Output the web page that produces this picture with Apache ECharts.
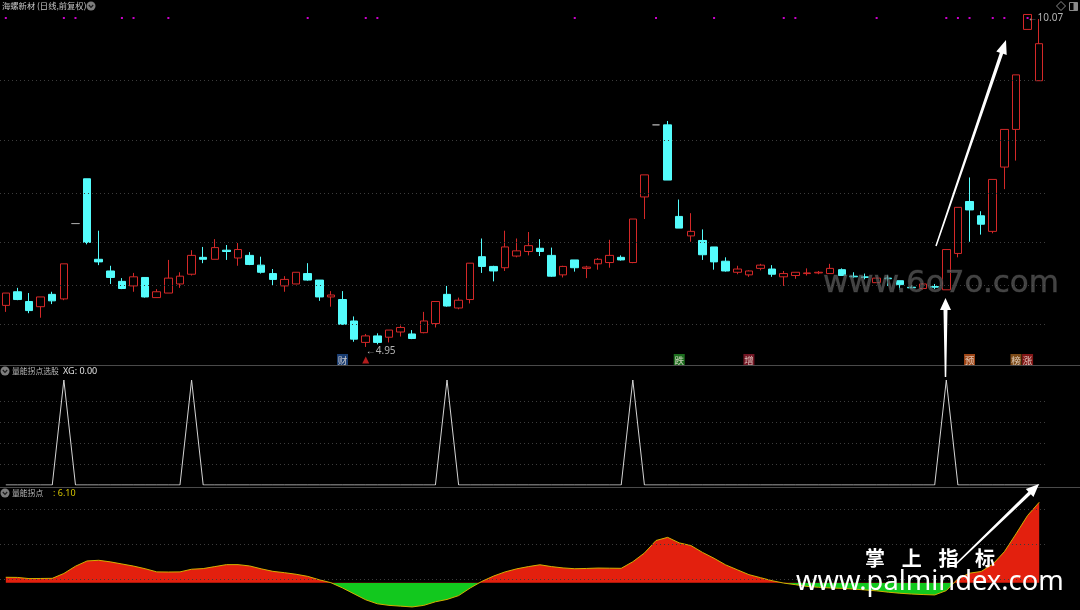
<!DOCTYPE html>
<html><head><meta charset="utf-8">
<script src="https://cdn.jsdelivr.net/npm/echarts@6/dist/echarts.min.js"></script>
<style>html,body{margin:0;padding:0;background:#000;}#c{width:1080px;height:610px;}</style>
</head><body><div id="c"></div>
<script>
// ---- data ----
const opens = [5.59,5.80,5.65,5.57,5.76,5.69,6.85,7.54,6.30,6.12,
5.96,5.89,6.02,5.71,5.78,5.92,6.07,6.33,6.30,6.44,
6.32,6.36,6.21,6.08,5.89,5.92,6.08,5.98,5.72,5.68,
5.35,5.02,5.12,5.10,5.18,5.15,5.17,5.31,5.76,5.55,
5.68,6.34,6.19,6.17,6.35,6.42,6.47,6.36,6.06,6.29,
6.16,6.23,6.25,6.33,6.25,7.26,8.37,8.37,6.96,6.66,
6.59,6.49,6.27,6.10,6.06,6.16,6.15,6.03,6.05,6.08,
6.09,6.08,6.14,6.04,6.03,5.94,6.01,5.97,5.87,5.85,
5.88,5.83,6.39,7.19,6.97,6.73,7.72,8.30,9.84,9.05];
const closes = [5.78,5.68,5.51,5.72,5.66,6.23,6.85,6.56,6.26,6.02,
5.85,6.03,5.72,5.80,6.01,6.04,6.36,6.30,6.48,6.42,
6.45,6.22,6.10,5.99,5.99,6.10,5.98,5.72,5.75,5.30,
5.07,5.12,5.02,5.21,5.25,5.08,5.35,5.65,5.58,5.67,
6.24,6.19,6.12,6.49,6.43,6.51,6.42,6.04,6.19,6.17,
6.18,6.30,6.36,6.29,6.92,7.60,8.37,7.52,6.78,6.73,
6.37,6.26,6.12,6.15,6.12,6.21,6.07,6.08,6.10,6.09,
6.10,6.16,6.05,6.03,6.02,6.01,6.00,5.91,5.86,5.92,
5.87,6.45,7.10,7.06,6.84,7.53,8.30,9.14,10.07,9.62];
const lows = [5.49,5.67,5.47,5.40,5.61,5.67,6.85,6.53,6.21,5.92,
5.84,5.80,5.71,5.71,5.78,5.86,6.05,6.24,6.30,6.29,
6.20,6.21,6.08,5.89,5.80,5.92,5.97,5.66,5.57,5.29,
5.03,4.95,4.99,5.02,5.11,5.07,5.16,5.25,5.57,5.53,
5.62,6.09,5.96,6.12,6.33,6.36,6.35,6.03,6.02,6.11,
6.01,6.14,6.17,6.28,6.24,6.92,8.37,7.52,6.78,6.57,
6.29,6.14,6.11,6.07,6.03,6.13,6.03,5.89,6.00,6.05,
6.07,6.08,6.05,6.01,5.99,5.94,5.89,5.83,5.86,5.83,
5.84,5.83,6.33,6.57,6.68,6.70,7.38,7.82,9.84,9.05];
const highs = [5.78,5.86,5.78,5.72,5.80,6.23,6.85,7.54,6.74,6.20,
6.01,6.09,6.02,5.84,6.29,6.10,6.44,6.49,6.61,6.52,
6.55,6.41,6.34,6.15,6.04,6.10,6.24,5.98,5.81,5.81,
5.42,5.15,5.16,5.21,5.28,5.21,5.49,5.65,5.89,5.71,
6.24,6.62,6.20,6.74,6.62,6.72,6.61,6.48,6.20,6.29,
6.20,6.32,6.60,6.36,6.92,7.60,8.37,8.43,7.22,7.01,
6.76,6.49,6.33,6.20,6.13,6.23,6.21,6.12,6.10,6.16,
6.12,6.23,6.16,6.10,6.08,6.01,6.06,5.97,5.90,5.93,
5.92,6.45,7.10,7.56,7.04,7.53,8.30,9.14,10.07,10.00];
const xgSignal = [0,0,0,0,0,1,0,0,0,0,
0,0,0,0,0,0,1,0,0,0,
0,0,0,0,0,0,0,0,0,0,
0,0,0,0,0,0,0,0,1,0,
0,0,0,0,0,0,0,0,0,0,
0,0,0,0,1,0,0,0,0,0,
0,0,0,0,0,0,0,0,0,0,
0,0,0,0,0,0,0,0,0,0,
0,1,0,0,0,0,0,0,0,0];
const energyPoint = [0.41,0.40,0.31,0.32,0.33,0.70,1.25,1.65,1.70,1.58,
1.42,1.26,1.06,0.82,0.81,0.82,1.02,1.07,1.22,1.37,
1.37,1.27,1.05,0.86,0.76,0.64,0.48,0.22,0.00,-0.40,
-0.85,-1.30,-1.60,-1.72,-1.78,-1.84,-1.72,-1.45,-1.27,-0.98,
-0.40,0.10,0.50,0.82,1.05,1.22,1.36,1.22,1.12,1.06,
1.08,1.11,1.10,1.09,1.59,2.25,3.20,3.44,3.02,2.82,
2.30,1.85,1.35,0.98,0.61,0.38,0.15,-0.03,-0.15,-0.28,
-0.35,-0.40,-0.43,-0.48,-0.55,-0.62,-0.72,-0.80,-0.86,-0.90,
-0.93,-0.60,0.30,0.72,0.85,1.40,2.35,3.70,5.10,6.10];
const topDots = [0,5,6,10,11,14,26,31,32,49,56,61,67,68,75,81,82,83,85,86,88];
const tagIndex = [29,31,58,64,83,87,88];
const tagText = ['财','▲','跌','增','预','榜','涨'];
const priceGridLevels = [9.046, 8.137, 7.321, 6.566, 5.904, 5.303];
const energyGridLevels = [0.26, 2.91, 5.57];
const stockTitle = '海螺新材 (日线,前复权)';
const panel2Title = '量能拐点选股';
const panel3Title = '量能拐点';

// ---- build ----
const N = opens.length;
const cats = opens.map((_, i) => 'D' + (i + 1));
const candleData = opens.map((o, i) => {
  const v = [o, closes[i], lows[i], highs[i]];
  if (o === closes[i] && o === highs[i] && o === lows[i]) {
    return {value: v, itemStyle: {color: '#a0a0a0', color0: '#a0a0a0', borderColor: '#a0a0a0', borderColor0: '#a0a0a0'}};
  }
  return v;
});
const dotData = cats.map((c, i) => topDots.indexOf(i) >= 0 ? 0.5 : '-');
const tagColors = {'财': '#1f4c8f', '跌': '#238a25', '增': '#8e1a2c', '预': '#c4561c', '榜': '#9c5e1e', '涨': '#a31c1c'};
const tagData = tagIndex.map((idx, k) => {
  const t = tagText[k];
  if (t === '▲') {
    return {value: [idx, 0.5], name: '', symbol: 'triangle', symbolSize: [7, 7], itemStyle: {color: '#e02424'}};
  }
  return {value: [idx, 0.5], name: t, itemStyle: {color: tagColors[t]}};
});

const GL = 0, GW = 1045;
const E_MIN = -1.92, E_MAX = 7.26;
const grids = [
  {left: GL, width: GW, top: 0, height: 365},
  {left: GL, width: GW, top: 12, height: 12},
  {left: GL, width: GW, top: 354, height: 12},
  {left: GL, width: GW, top: 380, height: 105},
  {left: GL, width: GW, top: 487, height: 121}
];
const xAxes = grids.map((g, i) => ({type: 'category', gridIndex: i, data: cats, show: false, boundaryGap: true}));
const yAxes = [
  {type: 'value', gridIndex: 0, min: 4.672, max: 10.293, show: false, splitLine: {show: false}},
  {type: 'value', gridIndex: 1, min: 0, max: 1, show: false},
  {type: 'value', gridIndex: 2, min: 0, max: 1, show: false},
  {type: 'value', gridIndex: 3, min: 0, max: 1, interval: 0.2, axisLine: {show: false}, axisTick: {show: false}, axisLabel: {show: false},
   splitLine: {show: true, lineStyle: {color: ['transparent', '#3c3c3c', '#3c3c3c', '#3c3c3c', '#3c3c3c', 'transparent'], type: [1, 3]}}},
  {type: 'value', gridIndex: 4, min: E_MIN, max: E_MAX, show: false, splitLine: {show: false}}
];
// area colour switches exactly at the zero level of panel 3
const g3 = grids[4];
const zeroFrac = E_MAX / (E_MAX - E_MIN);
const energyFill = new echarts.graphic.LinearGradient(0, g3.top, 0, g3.top + g3.height, [
  {offset: 0, color: '#e3200e'}, {offset: zeroFrac, color: '#e3200e'},
  {offset: zeroFrac, color: '#12c81e'}, {offset: 1, color: '#12c81e'}], true);

function arrowPts(x1, y1, x2, y2, w1, w2, hl, hw) {
  const L = Math.hypot(x2 - x1, y2 - y1), dx = (x2 - x1) / L, dy = (y2 - y1) / L, nx = -dy, ny = dx;
  const bx = x2 - dx * hl, by = y2 - dy * hl;
  return [[x1 + nx * w1 / 2, y1 + ny * w1 / 2], [bx + nx * w2 / 2, by + ny * w2 / 2], [bx + nx * hw / 2, by + ny * hw / 2], [x2, y2],
          [bx - nx * hw / 2, by - ny * hw / 2], [bx - nx * w2 / 2, by - ny * w2 / 2], [x1 - nx * w1 / 2, y1 - ny * w1 / 2]];
}
function icon(x, y) {
  return [
    {type: 'circle', shape: {cx: x, cy: y, r: 4.5}, style: {fill: '#7d7d7d'}, z: 100},
    {type: 'polyline', shape: {points: [[x - 2.2, y - 1], [x, y + 1.3], [x + 2.2, y - 1]]}, style: {stroke: '#1a1a1a', lineWidth: 1.2, fill: null}, z: 101}
  ];
}
const cjk = '"Noto Sans CJK SC", "Noto Sans", sans-serif';
const graphics = [].concat(
  [{type: 'line', shape: {x1: 0, y1: 365.5, x2: 1080, y2: 365.5}, style: {stroke: '#4a4a4a', lineWidth: 1}, z: 50},
   {type: 'line', shape: {x1: 0, y1: 487.5, x2: 1080, y2: 487.5}, style: {stroke: '#4a4a4a', lineWidth: 1}, z: 50},
   {type: 'text', x: 2, y: 6, style: {text: stockTitle, fill: '#c4c4c4', font: '8.3px ' + cjk, verticalAlign: 'middle'}, z: 100}],
  icon(91, 6),
  icon(5, 371),
  [{type: 'text', x: 12, y: 371, style: {text: panel2Title, fill: '#b8b8b8', font: '7.8px ' + cjk, verticalAlign: 'middle'}, z: 100},
   {type: 'text', x: 63, y: 371, style: {text: 'XG: ' + xgSignal[N - 1].toFixed(2), fill: '#e0e0e0', font: '9px "Noto Sans", sans-serif', verticalAlign: 'middle'}, z: 100}],
  icon(5, 493),
  [{type: 'text', x: 12, y: 493, style: {text: panel3Title, fill: '#b8b8b8', font: '7.8px ' + cjk, verticalAlign: 'middle'}, z: 100},
   {type: 'text', x: 53, y: 493, style: {text: ': ' + energyPoint[N - 1].toFixed(2), fill: '#d4c400', font: '9px "Noto Sans", sans-serif', verticalAlign: 'middle'}, z: 100},
   {type: 'polygon', shape: {points: [[1061, 1.5], [1065.5, 6], [1061, 10.5], [1056.5, 6]]}, style: {fill: null, stroke: '#8a8a8a', lineWidth: 1}, z: 100},
   {type: 'rect', shape: {x: 1069.5, y: 2.5, width: 8, height: 8}, style: {fill: null, stroke: '#8a8a8a', lineWidth: 1}, z: 100},
   {type: 'rect', shape: {x: 1073.5, y: 2.5, width: 4, height: 8}, style: {fill: '#8a8a8a'}, z: 100},
   {type: 'text', x: 823, y: 284, style: {text: 'www.6o7o.com', fill: 'rgba(110,110,110,0.6)', stroke: 'rgba(40,40,40,0.7)', lineWidth: 1, font: '31px "DejaVu Sans", sans-serif', verticalAlign: 'middle'}, z: 90},
   {type: 'polygon', shape: {points: arrowPts(936, 246, 1006, 40, 1.5, 3.5, 14, 11)}, style: {fill: '#ffffff'}, z: 95},
   {type: 'polygon', shape: {points: arrowPts(945.5, 377, 945.5, 298, 1.5, 4, 12, 11)}, style: {fill: '#ffffff'}, z: 95},
   {type: 'polygon', shape: {points: arrowPts(956, 564, 1039, 484, 1.5, 3.5, 13, 11)}, style: {fill: '#ffffff'}, z: 95},
   {type: 'text', x: 796, y: 582, style: {text: 'www.palmindex.com', fill: '#ffffff', font: '27.3px "Noto Sans", sans-serif', verticalAlign: 'middle'}, z: 96}],
  ['掌', '上', '指', '标'].map((ch, k) => ({type: 'text', x: 865 + k * 36.7, y: 558, style: {text: ch, fill: '#ffffff', font: 'bold 20px ' + cjk, verticalAlign: 'middle'}, z: 96}))
);

const chart = echarts.init(document.getElementById('c'), null, {renderer: 'canvas'});
chart.setOption({
  backgroundColor: '#000',
  animation: false,
  grid: grids,
  xAxis: xAxes,
  yAxis: yAxes,
  series: [
    {type: 'candlestick', xAxisIndex: 0, yAxisIndex: 0, data: candleData, barWidth: 8,
     itemStyle: {color: '#000', color0: '#54fcfc', borderColor: '#d42828', borderColor0: '#54fcfc', borderWidth: 1},
     markLine: {silent: true, symbol: ['none', 'none'], label: {show: false}, animation: false,
       lineStyle: {color: '#3c3c3c', type: [1, 3], width: 1},
       data: priceGridLevels.map(v => ({yAxis: v}))},
     markPoint: {symbolSize: 0, animation: false,
       label: {show: true, position: 'right', distance: 0, offset: [0, 4], color: '#b4b4b4', fontSize: 10, fontFamily: 'Noto Sans',
         formatter: p => '←' + Number(p.value).toFixed(2)},
       data: [{type: 'min', valueDim: 'lowest'}, {type: 'max', valueDim: 'highest'}]}},
    {type: 'scatter', xAxisIndex: 1, yAxisIndex: 1, data: dotData, symbol: 'rect', symbolSize: 2, itemStyle: {color: '#ff00ff'}, silent: true},
    {type: 'scatter', xAxisIndex: 2, yAxisIndex: 2, data: tagData, symbol: 'rect', symbolSize: [11, 12], silent: true,
     label: {show: true, position: 'inside', formatter: p => p.name, color: '#f4e8de', fontSize: 9.5, fontFamily: cjk}},
    {type: 'line', xAxisIndex: 3, yAxisIndex: 3, data: xgSignal, symbol: 'none', lineStyle: {color: '#d4d4d4', width: 1}, silent: true},
    {type: 'line', xAxisIndex: 4, yAxisIndex: 4, data: energyPoint, symbol: 'none', lineStyle: {width: 0}, areaStyle: {opacity: 1, color: energyFill}, silent: true,
     markLine: {silent: true, symbol: ['none', 'none'], label: {show: false}, animation: false,
       lineStyle: {color: '#3c3c3c', type: [1, 3], width: 1},
       data: energyGridLevels.map(v => ({yAxis: v}))}},
    {type: 'line', xAxisIndex: 4, yAxisIndex: 4, data: energyPoint, symbol: 'none', lineStyle: {color: '#d2b000', width: 1}, silent: true, z: 3}
  ],
  graphic: graphics
});
</script></body></html>
